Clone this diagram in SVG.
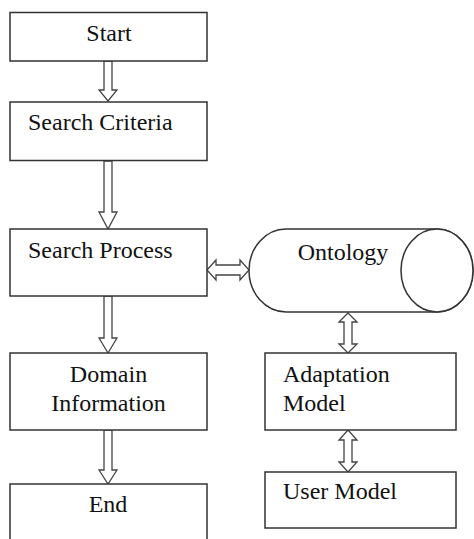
<svg xmlns="http://www.w3.org/2000/svg" width="474" height="539" viewBox="0 0 474 539">
  <style>
    .box { fill: #ffffff; stroke: #333333; stroke-width: 1.5; }
    .arrow { fill: #ffffff; stroke: #444444; stroke-width: 1.3; stroke-linejoin: miter; }
    text { font-family: 'Liberation Serif', 'Times New Roman', Times, serif; font-size: 24px; fill: #111111; }
    .mid { text-anchor: middle; }
  </style>
  <rect width="474" height="539" fill="#ffffff"/>

  <!-- flow connectors: hollow block arrows -->
  <g id="connectors">
    <!-- Start -> Search Criteria -->
    <polygon class="arrow" points="104,61 112,61 112,90 117,90 108,101 99,90 104,90"/>
    <!-- Search Criteria -> Search Process -->
    <polygon class="arrow" points="104,161 112,161 112,212 117,212 108,229 99,212 104,212"/>
    <!-- Search Process -> Domain Information -->
    <polygon class="arrow" points="104,296 112,296 112,338 117,338 108,353 99,338 104,338"/>
    <!-- Domain Information -> End -->
    <polygon class="arrow" points="104,430 112,430 112,470 117,470 108,484 99,470 104,470"/>
    <!-- Search Process <-> Ontology -->
    <polygon class="arrow" points="207,270 216,260 216,265 240,265 240,260 249,270 240,280 240,275 216,275 216,280"/>
    <!-- Ontology <-> Adaptation Model -->
    <polygon class="arrow" points="348,313 357,322 352,322 352,344 357,344 348,353 339,344 344,344 344,322 339,322"/>
    <!-- Adaptation Model <-> User Model -->
    <polygon class="arrow" points="348,430 357,440 352,440 352,462 357,462 348,472 339,462 344,462 344,440 339,440"/>
  </g>

  <g id="start">
    <rect class="box" x="10" y="12.5" width="197" height="48.5"/>
    <text class="mid" x="109" y="41">Start</text>
  </g>

  <g id="search-criteria">
    <rect class="box" x="10" y="102" width="197" height="58.5"/>
    <text x="28" y="130">Search Criteria</text>
  </g>

  <g id="search-process">
    <rect class="box" x="10" y="229" width="197" height="67"/>
    <text x="28" y="258">Search Process</text>
  </g>

  <g id="domain-information">
    <rect class="box" x="10" y="353" width="197" height="77"/>
    <text class="mid" x="108.5" y="382">Domain</text>
    <text class="mid" x="108.5" y="411">Information</text>
  </g>

  <g id="end">
    <rect class="box" x="10" y="484" width="197" height="70"/>
    <text class="mid" x="108" y="512">End</text>
  </g>

  <!-- horizontal cylinder -->
  <g id="ontology">
    <path class="box" d="M286,229 A37,41.5 0 0 0 286,312 H437 A36,41.5 0 0 0 437,229 Z"/>
    <ellipse class="box" cx="437" cy="270.5" rx="36" ry="41.5"/>
    <text class="mid" x="343" y="260">Ontology</text>
  </g>

  <g id="adaptation-model">
    <rect class="box" x="265" y="353" width="191" height="77"/>
    <text x="283" y="382">Adaptation</text>
    <text x="283" y="411">Model</text>
  </g>

  <g id="user-model">
    <rect class="box" x="265" y="472" width="191" height="56"/>
    <text x="283" y="499">User Model</text>
  </g>
</svg>
